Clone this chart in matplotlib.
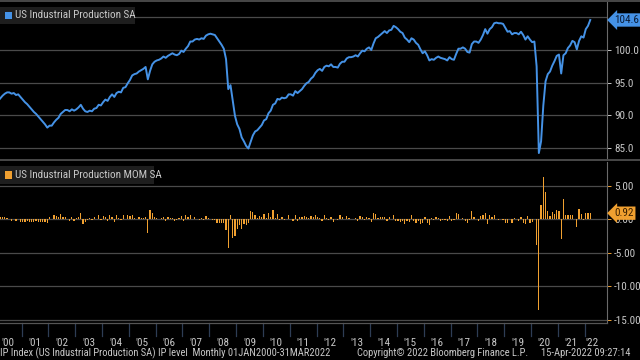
import matplotlib
matplotlib.use("Agg")
import matplotlib.pyplot as plt
import matplotlib.transforms as mtransforms
from matplotlib import font_manager as fm
import numpy as np

# ---------------- data ----------------
ip_level = [
    # 2000
    91.9, 92.2, 92.6, 93.0, 93.3, 93.5, 93.5, 93.3, 93.4, 93.1, 93.2, 92.8,
    # 2001
    92.4, 92.0, 91.7, 91.3, 90.9, 90.5, 90.2, 89.8, 89.4, 89.0, 88.6, 88.1,
    # 2002
    88.4, 88.4, 88.9, 89.3, 89.6, 90.2, 90.5, 90.8, 90.8, 90.6, 90.9, 90.7,
    # 2003
    90.9, 91.2, 91.6, 91.0, 90.6, 90.5, 90.7, 90.6, 91.0, 91.1, 91.6, 91.5,
    # 2004
    92.0, 92.4, 92.2, 92.8, 93.2, 92.8, 93.4, 93.6, 93.5, 94.2, 94.3, 94.9,
    # 2005
    95.4, 96.1, 96.3, 96.4, 96.7, 96.9, 97.1, 97.4, 95.5, 96.8, 97.8, 98.2,
    # 2006
    98.4, 98.5, 98.7, 99.0, 98.8, 99.1, 99.3, 99.5, 99.3, 99.2, 99.4, 99.9,
    # 2007
    99.7, 100.2, 100.6, 101.3, 101.3, 101.6, 101.7, 101.6, 101.8, 101.7, 102.2, 102.4,
    # 2008
    102.5, 102.4, 102.3, 101.8, 101.3, 100.8, 100.2, 98.6, 94.0, 94.6, 92.2, 89.9,
    # 2009
    88.6, 87.9, 86.6, 86.0, 85.3, 84.9, 85.9, 86.9, 87.5, 87.7, 88.1, 88.5,
    # 2010
    89.2, 89.4, 90.3, 90.7, 91.6, 91.8, 92.5, 92.4, 92.7, 92.6, 92.7, 93.2,
    # 2011
    93.2, 93.0, 93.7, 93.4, 93.7, 94.0, 94.5, 94.9, 95.1, 95.6, 95.9, 96.5,
    # 2012
    96.9, 97.1, 96.8, 97.4, 97.6, 97.5, 97.8, 97.4, 97.4, 97.3, 97.9, 98.2,
    # 2013
    98.2, 98.7, 98.9, 98.9, 99.0, 99.2, 99.0, 99.5, 99.9, 99.8, 100.2, 100.4,
    # 2014
    100.0, 101.0, 101.8, 102.0, 102.3, 102.6, 102.9, 102.6, 103.0, 103.1, 103.7, 103.5,
    # 2015
    103.2, 102.8, 102.6, 101.9, 101.6, 101.2, 101.8, 101.6, 101.1, 100.8, 100.1, 99.5,
    # 2016
    99.8, 99.2, 98.4, 98.6, 98.5, 98.8, 99.0, 98.8, 98.7, 98.6, 98.4, 98.9,
    # 2017
    98.6, 98.5, 99.4, 100.2, 100.2, 100.4, 100.2, 99.7, 99.6, 100.9, 101.3, 101.3,
    # 2018
    101.1, 101.6, 102.3, 103.2, 102.5, 103.2, 103.5, 104.1, 104.2, 104.1, 104.1, 104.0,
    # 2019
    103.4, 102.8, 102.9, 102.4, 102.6, 102.6, 102.4, 102.8, 102.3, 101.6, 102.1, 101.6,
    # 2020
    101.2, 101.3, 97.5, 84.2, 86.0, 91.5, 95.2, 96.3, 96.7, 97.6, 98.3, 99.1,
    # 2021
    99.3, 96.4, 99.2, 99.5, 100.3, 100.7, 101.4, 101.2, 100.1, 101.4, 102.1, 101.9,
    # 2022
    103.2, 103.7, 104.6,
]

ip_mom = [
    # 2000
    0.4, 0.3, 0.4, 0.4, 0.3, 0.2, 0.0, -0.2, 0.1, -0.3, 0.1, -0.4,
    # 2001
    -0.4, -0.4, -0.3, -0.4, -0.4, -0.4, -0.3, -0.4, -0.4, -0.4, -0.4, -0.6,
    # 2002
    0.4, 0.1, 0.7, 0.5, 0.4, 0.8, 0.3, 0.3, 0.1, -0.2, 0.4, -0.3,
    # 2003
    0.2, 0.3, 1.0, -0.7, -0.4, -0.1, 0.2, -0.1, 0.4, 0.1, 0.6, -0.1,
    # 2004
    0.5, 0.4, -0.2, 0.7, 0.4, -0.4, 0.6, 0.2, -0.1, 0.7, 0.1, 0.6,
    # 2005
    0.5, 0.7, 0.2, 0.1, 0.3, 0.2, 0.2, 0.3, -2.0, 1.4, 1.0, 0.4,
    # 2006
    0.2, 0.1, 0.2, 0.3, -0.2, 0.3, 0.2, 0.2, -0.2, -0.1, 0.2, 0.5,
    # 2007
    -0.2, 0.6, 0.3, 0.7, 0.0, 0.3, 0.1, -0.1, 0.2, -0.1, 0.5, 0.2,
    # 2008
    0.1, -0.1, -0.1, -0.5, -0.5, -0.5, -0.6, -1.6, -4.3, 0.7, -2.8, -2.5,
    # 2009
    -1.5, -0.8, -1.5, -0.7, -0.8, -0.5, 1.2, 1.1, 0.7, 0.2, 0.5, 0.4,
    # 2010
    0.8, 0.2, 1.0, 0.4, 1.4, 0.2, 0.8, -0.1, 0.3, -0.1, 0.1, 0.6,
    # 2011
    0.0, -0.2, 0.7, -0.3, 0.3, 0.3, 0.5, 0.4, 0.2, 0.5, 0.3, 0.6,
    # 2012
    0.4, 0.2, -0.3, 0.6, 0.2, -0.1, 0.3, -0.4, 0.0, -0.1, 0.6, 0.3,
    # 2013
    0.0, 0.5, 0.2, 0.0, 0.1, 0.2, -0.2, 0.5, 0.4, -0.1, 0.4, 0.2,
    # 2014
    -0.4, 1.0, 0.8, 0.2, 0.3, 0.3, 0.3, -0.3, 0.4, 0.1, 0.6, -0.2,
    # 2015
    -0.3, -0.4, -0.2, -0.7, -0.3, -0.4, 0.6, -0.2, -0.5, -0.3, -0.7, -0.6,
    # 2016
    0.4, -0.6, -0.8, 0.2, -0.1, 0.3, 0.2, -0.2, -0.1, -0.1, -0.2, 0.5,
    # 2017
    -0.3, -0.1, 0.9, 0.8, 0.0, 0.2, -0.2, -0.5, -0.1, 1.3, 0.4, 0.0,
    # 2018
    -0.2, 0.5, 0.7, 0.9, -0.7, 0.7, 0.3, 0.6, 0.1, -0.1, 0.0, -0.1,
    # 2019
    -0.6, -0.6, 0.1, -0.5, 0.2, 0.0, -0.2, 0.4, -0.5, -0.7, 0.5, -0.5,
    # 2020
    -0.4, 0.1, -3.8, -13.6, 2.1, 6.4, 4.1, 1.2, 0.5, 1.1, 0.8, 1.4,
    # 2021
    1.3, -3.0, 3.0, 0.7, 0.7, 0.6, 0.7, 0.1, -1.1, 1.5, 0.8, -0.1,
    # 2022
    1.0, 0.9, 0.92,
]

year_labels = ["'%02d" % y for y in range(0, 23)]
level_ticks = [85.0, 90.0, 95.0, 100.0]
mom_ticks = [5.0, 0.0, -5.0, -10.0, -15.0]
last_level = "104.6"
last_mom = "0.92"
legend_top = "US Industrial Production SA"
legend_bottom = "US Industrial Production MOM SA"
footer_left = "IP Index (US Industrial Production SA) IP level  Monthly 01JAN2000-31MAR2022"
footer_mid = "Copyright\u00a9 2022 Bloomberg Finance L.P."
footer_right = "15-Apr-2022 09:27:14"

# ---------------- font choice (prefer a narrow face) ----------------
fonts = fm.fontManager.ttflist
names = {f.name for f in fonts}
narrow = None
for cand in ["Liberation Sans Narrow", "Roboto Condensed", "Open Sans Condensed",
             "Noto Sans Condensed", "DejaVu Sans Condensed"]:
    if cand in names:
        narrow = cand
        break
STRETCH = "normal"
if narrow is None:
    cond = [f for f in fonts if f.name == "DejaVu Sans" and
            str(f.stretch).lower() in ("condensed", "semi-condensed", "75", "87.5", "semicondensed")]
    if cond:
        narrow = "DejaVu Sans"
        STRETCH = "condensed"
if narrow is None:
    narrow = "Liberation Sans"
    SCALE = 0.86
else:
    SCALE = 1.0
plt.rcParams["font.family"] = [narrow, "DejaVu Sans"]
plt.rcParams["font.stretch"] = STRETCH

FS_TICK = 8.0 * SCALE
FS_LEG = 8.0 * SCALE
FS_FOOT = 7.6 * SCALE

# ---------------- style ----------------
BG = "#000000"
BLUE = "#4592e6"
ORANGE = "#f0a030"
GRID = "#4a4a4a"
TXT = "#c8c8c8"

W, H = 640, 360
fig = plt.figure(figsize=(6.4, 3.6), dpi=100, facecolor=BG)

def fx(px):
    return px / W

def fy(py):
    return 1 - py / H

x = np.arange(len(ip_level))
xlim = (1.84, 273.5)
right_px = 607

ax1 = fig.add_axes([0, fy(158), fx(right_px), (158 - 2) / H], facecolor=BG)
ax2 = fig.add_axes([0, fy(323), fx(right_px), (323 - 162) / H], facecolor=BG)

for ax in (ax1, ax2):
    ax.set_xlim(*xlim)
    for s in ("top", "left", "bottom"):
        ax.spines[s].set_visible(False)
    ax.spines["right"].set_color("#6a6a6a")
    ax.spines["right"].set_linewidth(0.8)
    ax.yaxis.tick_right()
    ax.set_xticks([])
    ax.tick_params(axis="y", colors=TXT, labelsize=FS_TICK, length=3, width=0.7, pad=2)

# top panel
ax1.set_ylim(83.44, 107.36)
for g in [85, 90, 95, 100, 105]:
    ax1.axhline(g, color=GRID, lw=0.9, zorder=0)
ax1.plot(x, ip_level, color=BLUE, lw=1.4, zorder=3)
ax1.set_yticks(level_ticks)
ax1.set_yticklabels(["%.1f" % v for v in level_ticks])

# bottom panel
ax2.set_ylim(-15.52, 8.58)
for g in [5, 0, -5, -10, -15]:
    ax2.axhline(g, color=GRID, lw=0.9, zorder=0)
ax2.bar(x, ip_mom, width=0.55, color=ORANGE, zorder=3, linewidth=0)
ax2.set_yticks(mom_ticks)
ax2.set_yticklabels(["%.2f" % v for v in mom_ticks])
ax2.tick_params(axis="y", color=ORANGE)

# last value tags
t1 = mtransforms.blended_transform_factory(ax1.transAxes, ax1.transData)
ax1.text(1.012, ip_level[-1], last_level, transform=t1, ha="left", va="center",
         fontsize=FS_TICK, color="#0a1a33", clip_on=False, zorder=10,
         bbox=dict(boxstyle="larrow,pad=0.15", fc=BLUE, ec="none"))
t2 = mtransforms.blended_transform_factory(ax2.transAxes, ax2.transData)
ax2.text(1.012, ip_mom[-1], last_mom, transform=t2, ha="left", va="center",
         fontsize=FS_TICK, color="#3a2000", clip_on=False, zorder=10,
         bbox=dict(boxstyle="larrow,pad=0.15", fc=ORANGE, ec="none"))

# legends
def legend_box(text, color, y0_px, y1_px, w_px):
    r = plt.Rectangle((fx(0), fy(y1_px)), fx(w_px), (y1_px - y0_px) / H,
                      transform=fig.transFigure, fc="#1e1e1e", ec="none", zorder=5)
    fig.patches.append(r)
    sq = plt.Rectangle((fx(5), fy((y0_px + y1_px) / 2 + 3.5)), fx(7), 7 / H,
                       transform=fig.transFigure, fc=color, ec="none", zorder=6)
    fig.patches.append(sq)
    fig.text(fx(15), fy((y0_px + y1_px) / 2), text, color=TXT, fontsize=FS_LEG,
             ha="left", va="center", zorder=7)

legend_box(legend_top, BLUE, 7, 24, 135)
legend_box(legend_bottom, ORANGE, 166, 184, 154)

# frame lines
for py in (1, 160):
    fig.add_artist(plt.Line2D([0, 1], [fy(py), fy(py)], transform=fig.transFigure,
                              color="#555555", lw=1.2))
fig.add_artist(plt.Line2D([0, fx(right_px)], [fy(323), fy(323)], transform=fig.transFigure,
                          color="#555555", lw=0.9))

# year labels and separators
tb = mtransforms.blended_transform_factory(ax2.transData, fig.transFigure)
for k, lab in enumerate(year_labels):
    cx = 12 * k + 5.5 if k < 22 else 12 * k + 3.0
    ax2.text(cx, fy(343), lab, transform=tb, ha="center", va="center",
             fontsize=FS_TICK, color=TXT, clip_on=False)
    if k >= 1:
        sx = 12 * k - 0.5
        ax2.add_artist(plt.Line2D([sx, sx], [fy(323), fy(336)], transform=tb,
                                  color="#2e3d55", lw=0.9, clip_on=False))

# footer
fig.text(fx(0), fy(353), footer_left, color=TXT, fontsize=FS_FOOT, ha="left", va="center")
fig.text(fx(357), fy(353), footer_mid, color=TXT, fontsize=FS_FOOT, ha="left", va="center")
fig.text(fx(541), fy(353), footer_right, color=TXT, fontsize=FS_FOOT, ha="left", va="center")

fig.savefig("out.png", dpi=100, facecolor=BG)
